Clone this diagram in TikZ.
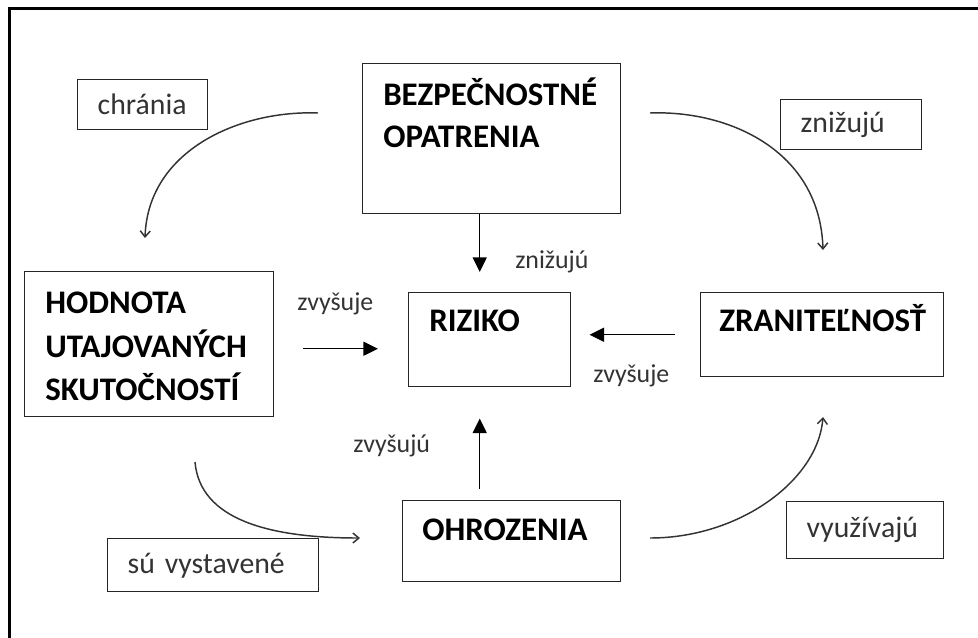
\documentclass[tikz,border=0pt]{standalone}
\usepackage{fontspec}
\setmainfont{Carlito}
\usetikzlibrary{arrows.meta,calc}
\begin{document}
\begin{tikzpicture}[x=0.75pt,y=-0.75pt,
  frameline/.style={line width=2.25pt,black},
  boxsize/.style 2 args={minimum width={#1*0.75pt},minimum height={#2*0.75pt}},
  bigbox/.style={draw=black!85,line width=1.1pt,rectangle,inner sep=0pt,anchor=north west},
  bigtxt/.style={inner sep=0pt,anchor=base west,font=\fontsize{24.7}{29}\selectfont\bfseries,text=black},
  tagbox/.style 2 args={draw=black!85,line width=1.1pt,rectangle,anchor=north west,
    inner ysep=0pt,inner xsep={20*0.75pt},text width={(#1-40)*0.75pt},align=left,
    minimum height={#2*0.75pt},font=\fontsize{22.3}{26}\selectfont,text=black!80},
  freetxt/.style={inner sep=0pt,anchor=base west,font=\fontsize{19.4}{23}\selectfont,text=black!80},
  sarr/.style={line width=1.1pt,black,-{Triangle[length=11pt,width=10.5pt]}},
  carr/.style={line width=1.1pt,black!80,-{Straight Barb[length=4.5pt,width=7.5pt]}}
]
\useasboundingbox (0,0) rectangle (978,637);
\clip (0,0) rectangle (978,637);

% outer frame, open to the right and bottom
\draw[frameline] (9.5,660) -- (9.5,8.7) -- (1000,8.7);

% main boxes
\node[bigbox,boxsize={258}{150}] (bez) at (362,63) {};
\node[bigbox,boxsize={249}{145}] (hod) at (24,271) {};
\node[bigbox,boxsize={162}{94}]  (riz) at (408,292) {};
\node[bigbox,boxsize={243}{84}]  (zr)  at (700,292) {};
\node[bigbox,boxsize={218}{81}]  (ohr) at (402,500) {};

% box titles
\node[bigtxt] (bez1) at (383,105) {BEZPEČNOSTNÉ};
\node[bigtxt] (bez2) at (383,147) {OPATRENIA};
\node[bigtxt] (hod1) at (45,313) {HODNOTA};
\node[bigtxt] (hod2) at (45,357) {UTAJOVANÝCH};
\node[bigtxt] (hod3) at (45,400) {SKUTOČNOSTÍ};
\node[bigtxt] (riz1) at (429,331) {RIZIKO};
\node[bigtxt] (zr1)  at (719,331) {ZRANITEĽNOSŤ};
\node[bigtxt] (ohr1) at (422,540) {OHROZENIA};

% framed relation labels
\node[tagbox={130}{50}] (chr) at (77,79)   {chránia};
\node[tagbox={141}{50}] (zn)  at (780,99)  {znižujú};
\node[tagbox={211}{53}] (su)  at (107,538) {sú vystavené};
\node[tagbox={157}{57}] (vy)  at (786,501) {využívajú};

% free relation labels
\node[freetxt] (l1) at (297,310) {zvyšuje};
\node[freetxt] (l2) at (515,268) {znižujú};
\node[freetxt] (l3) at (593,382) {zvyšuje};
\node[freetxt] (l4) at (353,452) {zvyšujú};

% straight arrows into RIZIKO
\draw[sarr,shorten >=15pt] ($(bez.south)+(-12,0)$) -- ($(riz.north)+(-10,0)$);
\draw[sarr,shorten <=8.25pt,shorten >=23.25pt] ($(ohr.north)+(-32,0)$) -- ($(riz.south)+(-10,0)$);
\coordinate (hl) at ($(hod.east)+(0,4.5)$);
\draw[sarr,shorten <=21.75pt,shorten >=22.5pt] (hl) -- (hl -| riz.west);
\draw[sarr,shorten <=18.75pt,shorten >=13.5pt] (zr.west) -- (zr.west -| riz.east);

% curved arrows around the diagram
\coordinate (c1s) at (318,113); \coordinate (c1e) at (145,238);
\coordinate (c2s) at (650,113); \coordinate (c2e) at (823,250);
\coordinate (c3s) at (195,462); \coordinate (c3e) at (360,538);
\coordinate (c4s) at (650,538); \coordinate (c4e) at (823,417);
\draw[carr] (c1s) .. controls (240,110) and (148,150) .. (c1e);
\draw[carr] (c2s) .. controls (728,110) and (820,150) .. (c2e);
\draw[carr] (c3s) .. controls (200,520) and (270,538) .. (c3e);
\draw[carr] (c4s) .. controls (740,538) and (818,480) .. (c4e);
\end{tikzpicture}
\end{document}
